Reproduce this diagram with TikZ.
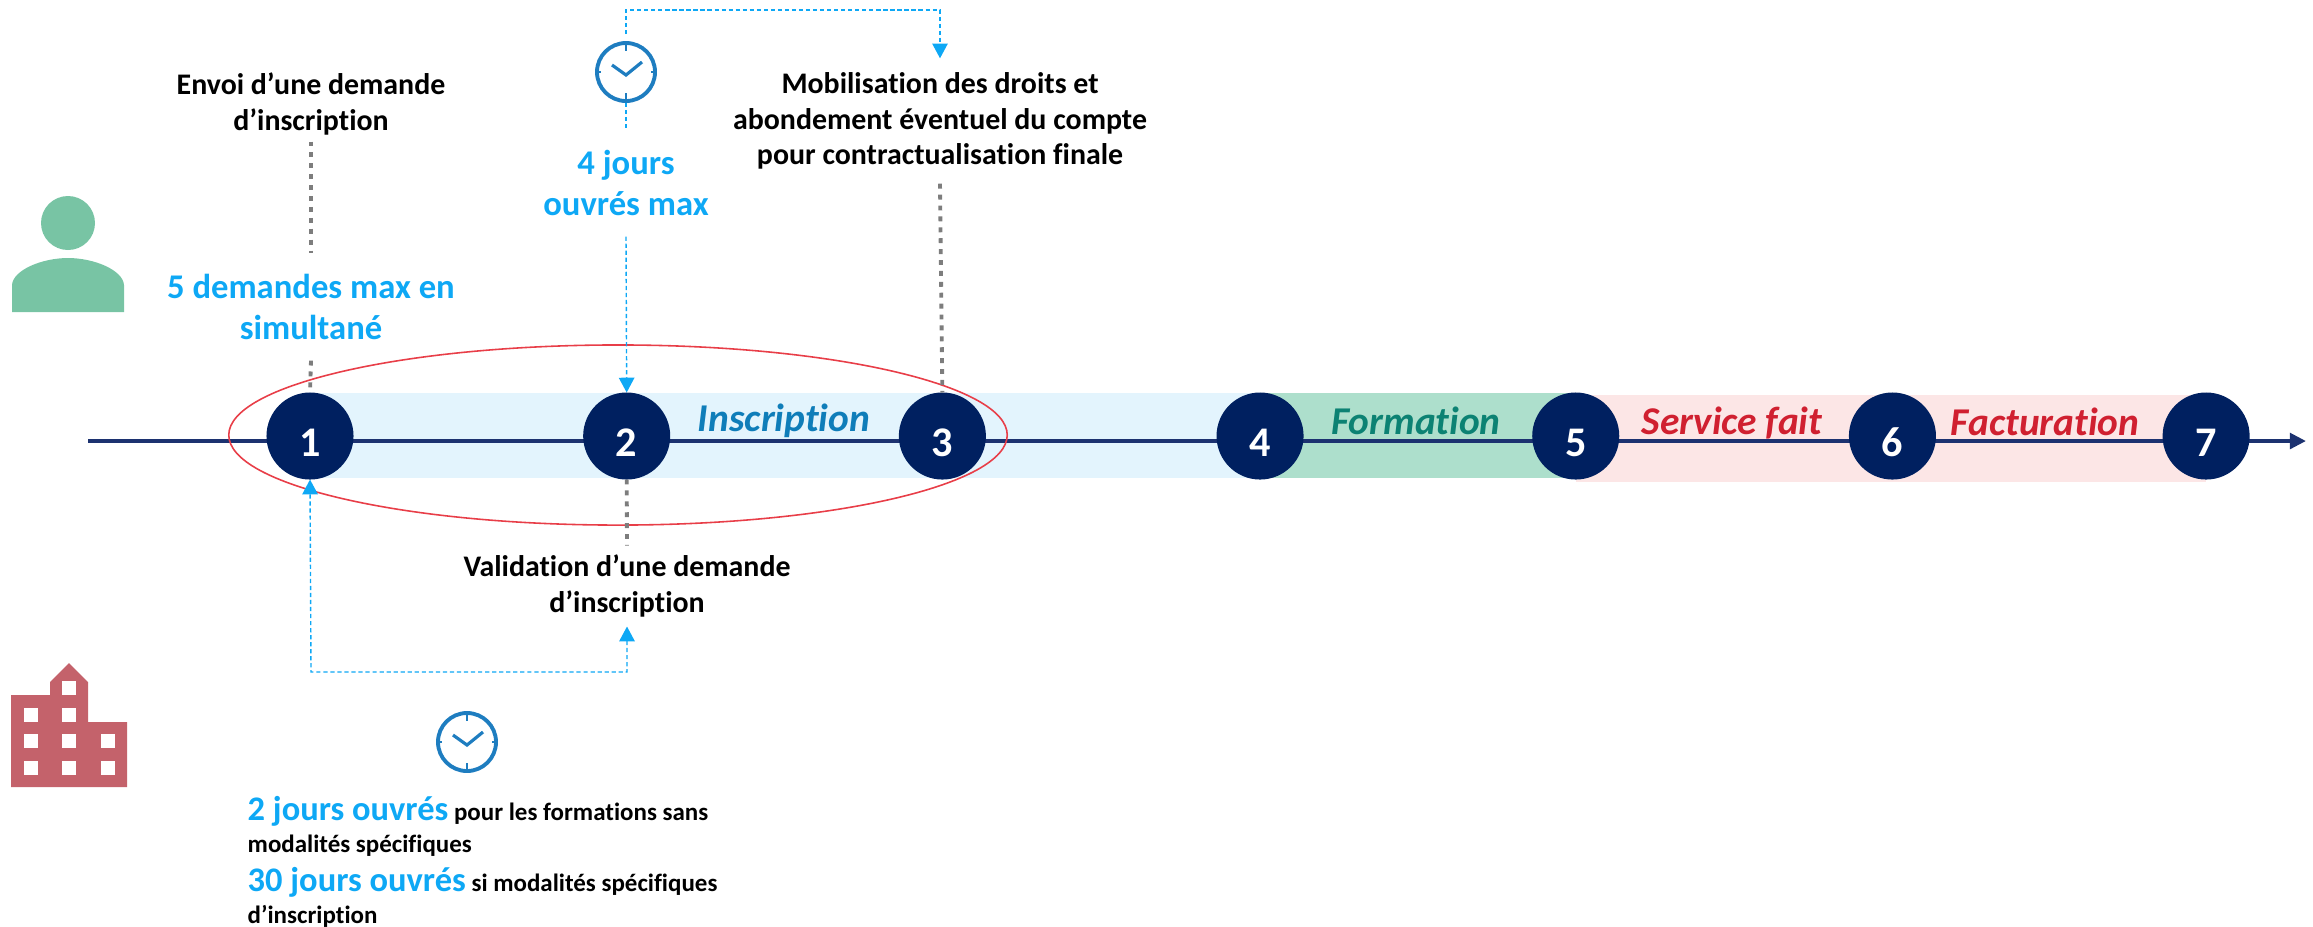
\documentclass[tikz,border=0pt]{standalone}
\usepackage{fontspec}
\setmainfont[Ligatures=NoCommon]{Carlito}
\usepackage{xcolor}
\usetikzlibrary{shapes.geometric, arrows.meta, positioning, backgrounds}
\definecolor{stepcolor}{RGB}{0, 32, 96}
\definecolor{linecolor}{RGB}{28, 50, 112}
\definecolor{delaycolor}{RGB}{14, 168, 245}
\definecolor{clockcolor}{RGB}{30, 125, 192}
\definecolor{dotcolor}{RGB}{125, 125, 125}
\definecolor{scopecolor}{RGB}{232, 62, 72}
\definecolor{inscband}{RGB}{227, 244, 253}
\definecolor{formband}{RGB}{173, 223, 204}
\definecolor{factband}{RGB}{252, 230, 230}
\definecolor{insctext}{RGB}{15, 125, 185}
\definecolor{formtext}{RGB}{12, 130, 115}
\definecolor{facttext}{RGB}{208, 32, 48}
\definecolor{personcolor}{RGB}{120, 196, 164}
\definecolor{buildingcolor}{RGB}{196, 98, 107}
\tikzset{
    clockhands/.pic={
        \draw[clockcolor, line width=0.9pt] (-14,-7) -- (0,3) -- (16,-10);
        \draw[clockcolor, line width=0.7pt] (0,-30) -- (0,-21) (0,30) -- (0,21) (-30,0) -- (-25,0) (30,0) -- (25,0);
    }
}

\begin{document}
\begin{tikzpicture}[
    x=0.01cm, y=-0.01cm,
    stepnode/.style={circle, fill=stepcolor, text=white, minimum size=0.87cm, inner sep=0pt, outer sep=0pt, text height=0.41cm, text depth=0pt, font=\fontsize{12}{14}\selectfont\bfseries},
    eventnode/.style={align=center, font=\fontsize{8.5}{10}\selectfont\bfseries, inner xsep=0pt},
    delaynode/.style={align=center, text=delaycolor, font=\fontsize{9.85}{11.7}\selectfont\bfseries, inner xsep=0pt, inner ysep=0.2cm},
    phase/.style={font=\fontsize{11.2}{14}\selectfont\bfseries\itshape, inner sep=0pt},
    clockface/.style={circle, draw=clockcolor, line width=1.1pt, minimum size=0.58cm, inner sep=0pt},
    greydots/.style={draw=dotcolor, line width=1.1pt, dash pattern=on 1.4pt off 1.7pt},
    bluedash/.style={draw=delaycolor, line width=0.4pt, dash pattern=on 1.2pt off 0.8pt}
]
    \useasboundingbox (0,0) rectangle (2313,926);

    % Timeline steps
    \node[stepnode] (step1) at (310,436) {1};
    \node[stepnode, right=2.295cm of step1] (step2) {2};
    \node[stepnode, right=2.285cm of step2] (step3) {3};
    \node[stepnode, right=2.305cm of step3] (step4) {4};
    \node[stepnode, right=2.285cm of step4] (step5) {5};
    \node[stepnode, right=2.295cm of step5] (step6) {6};
    \node[stepnode, right=2.265cm of step6] (step7) {7};

    % Phase labels
    \node[phase, text=insctext] (inscription) at (784,421) {Inscription};
    \node[phase, text=formtext] (formation) at (1416,421) {Formation};
    \node[phase, text=facttext] (servicefait) at (1732,423) {Service fait};
    \node[phase, text=facttext] (facturation) at (2045,422) {Facturation};

    % Events and delays
    \node[eventnode, inner ysep=0.06cm] (envoi) at (311,104) {Envoi d’une demande\\d’inscription};
    \node[delaynode] (maxreq) at (311,307) {5 demandes max en\\simultané};
    \node[clockface] (clock1) at (626,72) {};
    \pic at (clock1) {clockhands};
    \node[delaynode] (fourdays) at (626,183) {4 jours\\ouvrés max};
    \node[eventnode, inner ysep=0.14cm] (mobil) at (940,121) {Mobilisation des droits et\\abondement éventuel du compte\\pour contractualisation finale};
    \node[eventnode, inner ysep=0.09cm] (valid) at (627,586) {Validation d’une demande\\d’inscription};
    \node[clockface] (clock2) at (467,742) {};
    \pic at (clock2) {clockhands};
    \node[align=left, anchor=north west, inner sep=0pt, font=\fontsize{7.1}{9.6}\selectfont\bfseries] (twodays) at (247,796) {{\fontsize{9.8}{9.6}\selectfont\color{delaycolor}2 jours ouvrés} pour les formations sans\\[-0.75pt]modalités spécifiques\\[1.5pt]{\fontsize{9.8}{9.6}\selectfont\color{delaycolor}30 jours ouvrés} si modalités spécifiques\\[-0.5pt]d’inscription};

    % Corners of the delay links
    \coordinate (topcorner) at (940,10);
    \coordinate (botcorner) at (311,672);
    \coordinate (linestart) at (88,441);
    \coordinate (lineend) at (2306,441);

    % Scope of the red ellipse
    \node[ellipse, draw=scopecolor, line width=0.45pt, minimum width=7.78cm, minimum height=1.8cm, inner sep=0pt] (inscscope) at (618,435) {};

    % Bands and timeline behind the steps
    \begin{scope}[on background layer]
        \fill[inscband] (step1.center |- 0,393) rectangle (step4.center |- 0,478);
        \fill[formband] (step4.center |- 0,393) rectangle (step5.center |- 0,478);
        \fill[factband] (step5.center |- 0,395) rectangle (step7.center |- 0,482);
        \draw[linecolor, line width=1.25pt, -{Triangle[length=4.6pt, width=4.4pt]}] (linestart) -- (lineend);
    \end{scope}

    % Dotted links
    \draw[greydots] (envoi.south) -- (maxreq.north);
    \draw[greydots] (maxreq.south) -- (step1.north);
    \draw[greydots] (mobil.south) -- (step3.north);
    \draw[greydots] (step2.south) -- (valid.north);

    % Delay links
    \draw[bluedash, shorten <=2pt, -{Triangle[length=4.2pt, width=4.4pt]}] (clock1.north) |- (topcorner) -- (mobil.north);
    \draw[bluedash] (clock1.south) -- (fourdays.north);
    \draw[bluedash, -{Triangle[length=4.2pt, width=4.4pt]}] (fourdays.south) -- (step2.north);
    \draw[bluedash, {Triangle[length=4.2pt, width=4.4pt]}-{Triangle[length=4.2pt, width=4.4pt]}] (valid.south) |- (botcorner) -- (step1.south);

    % Person
    \fill[personcolor] (68,223) ellipse (27 and 27);
    \fill[personcolor] (12,312) -- (12,285) .. controls (13,270) and (42,258) .. (68,258) .. controls (94,258) and (123,270) .. (124,285) -- (124,312) -- cycle;

    % Building
    \fill[buildingcolor] (11,787) -- (11,695) -- (50,695) -- (50,682) -- (69,663) -- (88,682) -- (88,722) -- (127,722) -- (127,787) -- cycle;
    \fill[white] (62,681) rectangle (76,695);
    \fill[white] (24,708) rectangle (38,722);
    \fill[white] (62,708) rectangle (76,722);
    \fill[white] (24,734) rectangle (38,748);
    \fill[white] (62,734) rectangle (76,748);
    \fill[white] (101,734) rectangle (115,748);
    \fill[white] (24,761) rectangle (38,775);
    \fill[white] (62,761) rectangle (76,775);
    \fill[white] (101,761) rectangle (115,775);
\end{tikzpicture}
\end{document}
